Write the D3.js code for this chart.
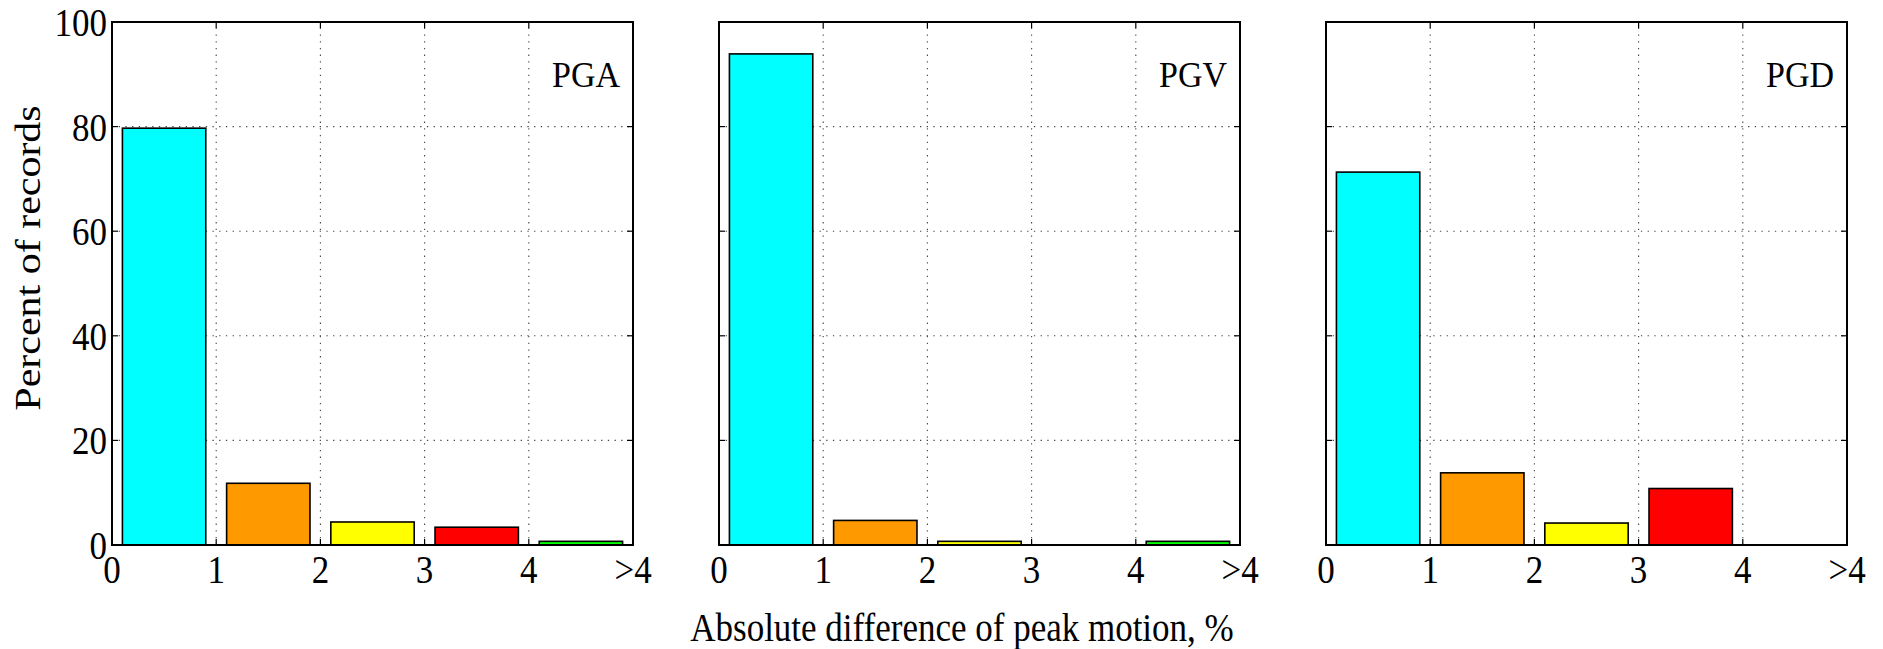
<!DOCTYPE html>
<html>
<head>
<meta charset="utf-8">
<script src="https://cdn.jsdelivr.net/npm/d3@7"></script>
<style>
  body { margin: 0; background: #fff; }
  text { font-family: "Liberation Serif", "Times New Roman", serif; fill: #000; }
</style>
</head>
<body>
<svg id="chart" width="1883" height="649"></svg>
<script>
// Histogram bins of absolute difference of peak motion (%)
const bins = ["0-1", "1-2", "2-3", "3-4", ">4"];
const binColors = ["#00ffff", "#ff9900", "#ffff00", "#ff0000", "#00ff00"];
const xTickLabels = ["0", "1", "2", "3", "4", ">4"];
const yTicks = [0, 20, 40, 60, 80, 100];
const panelNames = ["PGA", "PGV", "PGD"];

// Percent of records in each bin
const pgaValues = [79.7, 11.8, 4.4, 3.4, 0.7];
const pgvValues = [93.9, 4.7, 0.7, 0, 0.7];
const pgdValues = [71.3, 13.8, 4.2, 10.8, 0];
const panelValues = [pgaValues, pgvValues, pgdValues];

const svg = d3.select("#chart");
const panelLeft = [112, 719, 1326];
const panelW = 521, panelTop = 22, panelH = 523;
const tickLen = 6;
const textStretch = 1.17; // glyphs are drawn slightly tall

const y = d3.scaleLinear().domain([0, 100]).range([panelTop + panelH, panelTop]);

panelNames.forEach((name, p) => {
  const x = d3.scaleLinear().domain([0, bins.length]).range([panelLeft[p], panelLeft[p] + panelW]);
  const g = svg.append("g");
  const values = panelValues[p];

  // dotted grid
  const gridX = d3.range(1, bins.length);
  const gridY = yTicks.slice(1, -1);
  g.selectAll("line.gx").data(gridX).join("line")
    .attr("x1", d => x(d)).attr("x2", d => x(d))
    .attr("y1", y(0)).attr("y2", y(100))
    .attr("stroke", "#444").attr("stroke-width", 1.1)
    .attr("stroke-dasharray", "1.3,5.4");
  g.selectAll("line.gy").data(gridY).join("line")
    .attr("x1", x(0)).attr("x2", x(bins.length))
    .attr("y1", d => y(d)).attr("y2", d => y(d))
    .attr("stroke", "#444").attr("stroke-width", 1.1)
    .attr("stroke-dasharray", "1.3,5.4");

  // bars
  g.selectAll("rect.bar").data(values).join("rect")
    .attr("x", (d, i) => x(i + 0.1))
    .attr("width", (d, i) => x(i + 0.9) - x(i + 0.1))
    .attr("y", d => y(d))
    .attr("height", d => y(0) - y(d))
    .attr("fill", (d, i) => binColors[i])
    .attr("stroke", "#000").attr("stroke-width", 1.6);

  // inward ticks on all four sides
  const xt = d3.range(0, bins.length + 1);
  g.selectAll("line.tb").data(xt).join("line")
    .attr("x1", d => x(d)).attr("x2", d => x(d))
    .attr("y1", y(0)).attr("y2", y(0) - tickLen)
    .attr("stroke", "#000").attr("stroke-width", 1.2);
  g.selectAll("line.tt").data(xt).join("line")
    .attr("x1", d => x(d)).attr("x2", d => x(d))
    .attr("y1", y(100)).attr("y2", y(100) + tickLen)
    .attr("stroke", "#000").attr("stroke-width", 1.2);
  g.selectAll("line.tl").data(yTicks).join("line")
    .attr("x1", x(0)).attr("x2", x(0) + tickLen)
    .attr("y1", d => y(d)).attr("y2", d => y(d))
    .attr("stroke", "#000").attr("stroke-width", 1.2);
  g.selectAll("line.tr").data(yTicks).join("line")
    .attr("x1", x(bins.length)).attr("x2", x(bins.length) - tickLen)
    .attr("y1", d => y(d)).attr("y2", d => y(d))
    .attr("stroke", "#000").attr("stroke-width", 1.2);

  // frame
  g.append("rect")
    .attr("x", x(0)).attr("y", y(100))
    .attr("width", x(bins.length) - x(0)).attr("height", y(0) - y(100))
    .attr("fill", "none").attr("stroke", "#000").attr("stroke-width", 2);

  // x tick labels
  g.selectAll("text.xl").data(xTickLabels).join("text")
    .attr("transform", (d, i) => `translate(${x(i)},${y(0) + 38}) scale(1,${textStretch})`)
    .attr("text-anchor", "middle")
    .attr("font-size", 35)
    .text(d => d);

  // y tick labels on the first panel only
  if (p === 0) {
    g.selectAll("text.yl").data(yTicks).join("text")
      .attr("transform", d => `translate(${x(0) - 5},${y(d)}) scale(1,${textStretch})`)
      .attr("dy", "0.34em")
      .attr("text-anchor", "end")
      .attr("font-size", 35)
      .text(d => d);
  }

  // panel name
  g.append("text")
    .attr("transform", `translate(${x(bins.length) - 13},${panelTop + 65}) scale(1,1.05)`)
    .attr("text-anchor", "end")
    .attr("font-size", 34)
    .text(name);
});

// axis titles
svg.append("text")
  .attr("transform", `translate(962,641) scale(1,${textStretch})`)
  .attr("text-anchor", "middle")
  .attr("font-size", 35)
  .text("Absolute difference of peak motion, %");

svg.append("text")
  .attr("transform", "translate(40,258) rotate(-90) scale(1.2,1)")
  .attr("text-anchor", "middle")
  .attr("font-size", 35)
  .text("Percent of records");
</script>
</body>
</html>
